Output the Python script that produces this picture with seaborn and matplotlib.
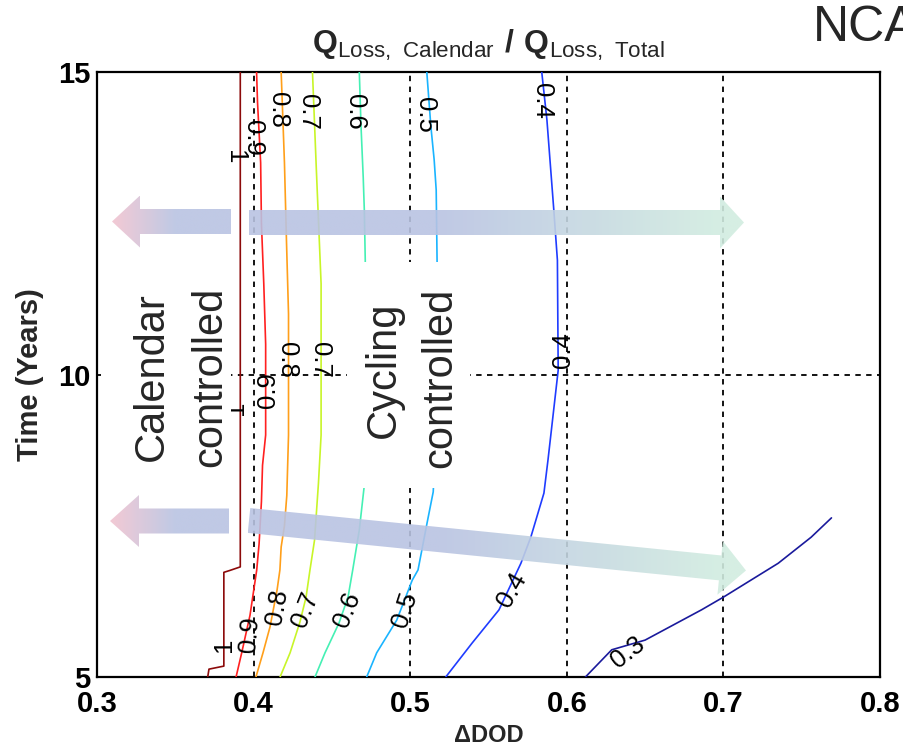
import numpy as np
import pandas as pd
import matplotlib
matplotlib.use("Agg")
import matplotlib.pyplot as plt
import seaborn as sns
from matplotlib.patches import Polygon, Rectangle
from matplotlib.colors import to_rgb

# ---------------- data ----------------
levels = ["1", "0.9", "0.8", "0.7", "0.6", "0.5", "0.4", "0.3"]
level_colors = ["#8c0a0a", "#ff2020", "#ff9f1a", "#c8f528", "#45f0b4", "#1ab4ff", "#1f3cff", "#1a1a9c"]

years_1 = [15.0, 6.82, 6.76, 6.73, 5.18, 5.13, 5.0]
dod_1 = [0.3915, 0.3915, 0.3847, 0.381, 0.381, 0.3715, 0.3707]

years_09 = [15.0, 14.5, 13.5, 12.5, 11.5, 10.5, 9.0, 8.5, 7.9, 7.2, 6.77, 6.02, 5.4, 5.0]
dod_09 = [0.4019, 0.4025, 0.4045, 0.405, 0.4065, 0.4077, 0.4077, 0.4057, 0.405, 0.4035, 0.402, 0.3977, 0.3924, 0.3888]

years_08 = [15.0, 14.0, 13.5, 12.2, 11.0, 9.0, 8.0, 7.5, 7.15, 6.77, 6.44, 5.83, 5.4, 5.0]
dod_08 = [0.4176, 0.419, 0.4197, 0.421, 0.4223, 0.4223, 0.4212, 0.4197, 0.4176, 0.4168, 0.415, 0.4105, 0.406, 0.4015]

years_07 = [15.0, 13.43, 12.5, 11.5, 9.0, 8.2, 7.26, 6.77, 6.32, 5.91, 5.4, 5.0]
dod_07 = [0.4376, 0.440, 0.4415, 0.4431, 0.4431, 0.4414, 0.4389, 0.436, 0.4335, 0.4296, 0.4233, 0.4169]

years_06 = [15.0, 14.1, 13.26, 12.72, 11.89, 10.5, 9.0, 8.17, 7.43, 6.77, 6.32, 5.89, 5.4, 5.0]
dod_06 = [0.4675, 0.4686, 0.470, 0.4707, 0.4713, 0.4715, 0.4713, 0.4707, 0.4675, 0.4633, 0.4603, 0.4545, 0.4456, 0.4392]

years_05 = [15.0, 14.1, 13.55, 13.05, 11.8, 10.5, 9.0, 8.06, 7.55, 6.77, 6.6, 5.94, 5.4, 5.0]
dod_05 = [0.5106, 0.5132, 0.5153, 0.5166, 0.5172, 0.5175, 0.5165, 0.5147, 0.5108, 0.505, 0.5013, 0.4914, 0.4786, 0.4722]

years_04 = [15.0, 14.21, 12.72, 11.89, 10.07, 8.59, 8.04, 7.31, 6.88, 6.11, 5.56, 5.0]
dod_04 = [0.584, 0.5873, 0.5917, 0.594, 0.5945, 0.588, 0.5854, 0.577, 0.5707, 0.5567, 0.5395, 0.5227]

years_03 = [5.0, 5.45, 5.61, 6.11, 6.32, 6.88, 7.31, 7.63]
dod_03 = [0.6119, 0.6287, 0.650, 0.686, 0.700, 0.735, 0.756, 0.769]

label_text = ["1", "0.9", "0.8", "0.7", "0.6", "0.5", "0.4",
              "1", "0.9", "0.8", "0.7", "0.4",
              "1", "0.9", "0.8", "0.7", "0.6", "0.5", "0.4", "0.3"]
label_dod = [0.3881, 0.3996, 0.4156, 0.4347, 0.4648, 0.5094, 0.5841,
             0.3890, 0.4095, 0.4213, 0.4424, 0.5976,
             0.3811, 0.3977, 0.4149, 0.4328, 0.4596, 0.4967, 0.5650, 0.6391]
label_years = [13.60, 13.91, 14.37, 14.34, 14.34, 14.29, 14.52,
               9.45, 9.74, 10.24, 10.24, 10.40,
               5.53, 5.71, 6.16, 6.11, 6.11, 6.11, 6.44, 5.40]
label_rot = [-90, -90, -90, -90, -90, -90, -90,
             90, 90, -90, -90, 90,
             90, 85, 80, 68, 68, 72, 60, 38]

x_ticks = [0.3, 0.4, 0.5, 0.6, 0.7, 0.8]
y_ticks = [5, 10, 15]

# ---------------- build table ----------------
series = [(years_1, dod_1), (years_09, dod_09), (years_08, dod_08), (years_07, dod_07),
          (years_06, dod_06), (years_05, dod_05), (years_04, dod_04), (years_03, dod_03)]
rows = []
for lvl, (ys, xs) in zip(levels, series):
    for i, (yy, xx) in enumerate(zip(ys, xs)):
        rows.append({"level": lvl, "order": i, "years": yy, "dod": xx})
df = pd.DataFrame(rows)

# ---------------- style ----------------
sns.set_style("white")
plt.rcParams["font.family"] = ["Liberation Sans", "DejaVu Sans"]
plt.rcParams["mathtext.fontset"] = "custom"
plt.rcParams["mathtext.rm"] = "Liberation Sans"
plt.rcParams["mathtext.bf"] = "Liberation Sans:bold"

W, H = 904, 753
fig = plt.figure(figsize=(W / 100, H / 100), dpi=100)
ax = fig.add_axes([97 / W, 1 - 677 / H, (880 - 97) / W, (677 - 72) / H])

sns.lineplot(data=df, x="dod", y="years", hue="level", hue_order=levels,
             palette=dict(zip(levels, level_colors)), sort=False, estimator=None,
             units="level", legend=False, linewidth=1.2, ax=ax, zorder=3)

ax.set_xlim(0.3, 0.8)
ax.set_ylim(5, 15)
ax.set_xticks(x_ticks)
ax.set_xticklabels([f"{v:.1f}" for v in x_ticks])
ax.set_yticks(y_ticks)
ax.set_yticklabels([str(v) for v in y_ticks])
for lab in ax.get_xticklabels() + ax.get_yticklabels():
    lab.set_fontweight("bold")
ax.tick_params(direction="in", length=8, width=1.2, labelsize=21, colors="black")
ax.tick_params(axis="x", pad=9)
ax.tick_params(axis="y", pad=5)
ax.grid(True, color="black", linestyle=(0, (3, 3)), linewidth=1.3)
for s in ax.spines.values():
    s.set_color("black")
    s.set_linewidth(1.6)
    s.set_visible(True)

ax.set_xlabel("\u0394DOD", fontsize=17, fontweight="bold", labelpad=5)
ax.set_ylabel("Time (Years)", fontsize=21, fontweight="bold", labelpad=10)
ax.set_title(r"$\mathbf{Q}_{\mathrm{Loss,\ Calendar}}\ \mathbf{/}\ \mathbf{Q}_{\mathrm{Loss,\ Total}}$",
             fontsize=23, pad=14)

for t, xx, yy, r in zip(label_text, label_dod, label_years, label_rot):
    ax.text(xx, yy, t, rotation=r, rotation_mode="anchor", ha="center", va="center",
            fontsize=18.5, color="black", zorder=4)

fig.text(813 / W, 1 - 28 / H, "NCA", fontsize=36, ha="left", va="center")

# ---------------- overlay for arrows and text boxes (pixel coordinates) ----------------
ov = fig.add_axes([0, 0, 1, 1], zorder=5)
ov.patch.set_visible(False)
ov.axis("off")


def arrow_poly(tail, tip, shaft_half, head_half, head_len):
    tail = np.array(tail, float)
    tip = np.array(tip, float)
    d = tip - tail
    L = np.hypot(*d)
    u = d / L
    n = np.array([-u[1], u[0]])
    base = tip - u * head_len
    return [tail + n * shaft_half, base + n * shaft_half, base + n * head_half, tip,
            base - n * head_half, base - n * shaft_half, tail - n * shaft_half]


def gradient_arrow(verts, x_stops, colors, alpha=0.9):
    verts = np.array(verts)
    xs = np.linspace(verts[:, 0].min(), verts[:, 0].max(), 300)
    rgb = np.array([to_rgb(c) for c in colors])
    img = np.zeros((1, len(xs), 3))
    for k in range(3):
        img[0, :, k] = np.interp(xs, x_stops, rgb[:, k])
    poly = Polygon(verts, closed=True, facecolor="none", edgecolor="none")
    ov.add_patch(poly)
    im = ov.imshow(img, extent=(xs[0], xs[-1], verts[:, 1].max(), verts[:, 1].min()),
                   aspect="auto", alpha=alpha, interpolation="bilinear", zorder=2)
    im.set_clip_path(poly)


pink, lav, mint = "#f2c4d0", "#b9c3e2", "#d2ede0"
gradient_arrow(arrow_poly((231, 221.5), (112, 221.5), 12.5, 26, 28), [112, 175], [pink, lav])
gradient_arrow(arrow_poly((229, 521), (110, 521), 12.5, 26, 29), [110, 175], [pink, lav])
gradient_arrow(arrow_poly((249, 222.5), (744, 222.5), 12.5, 26, 24), [249, 440, 725], [lav, lav, mint])
gradient_arrow(arrow_poly((249, 520.5), (746, 570.5), 12.5, 27, 26), [249, 440, 725], [lav, lav, mint])

# white boxes behind region labels
ov.add_patch(Rectangle((101, 262), 130, 226, facecolor="white", edgecolor="none", zorder=1))
ov.add_patch(Rectangle((347, 262), 123, 226, facecolor="white", edgecolor="none", zorder=1))

ov.text(152, 377, "Calendar", rotation=90, ha="center", va="center", fontsize=30, zorder=3)
ov.text(210, 377, "controlled", rotation=90, ha="center", va="center", fontsize=30, zorder=3)
ov.text(384, 370, "Cycling", rotation=90, ha="center", va="center", fontsize=30, zorder=3)
ov.text(440, 378, "controlled", rotation=90, ha="center", va="center", fontsize=30, zorder=3)

ov.set_xlim(0, W)
ov.set_ylim(H, 0)

fig.savefig("out.png", dpi=100)
